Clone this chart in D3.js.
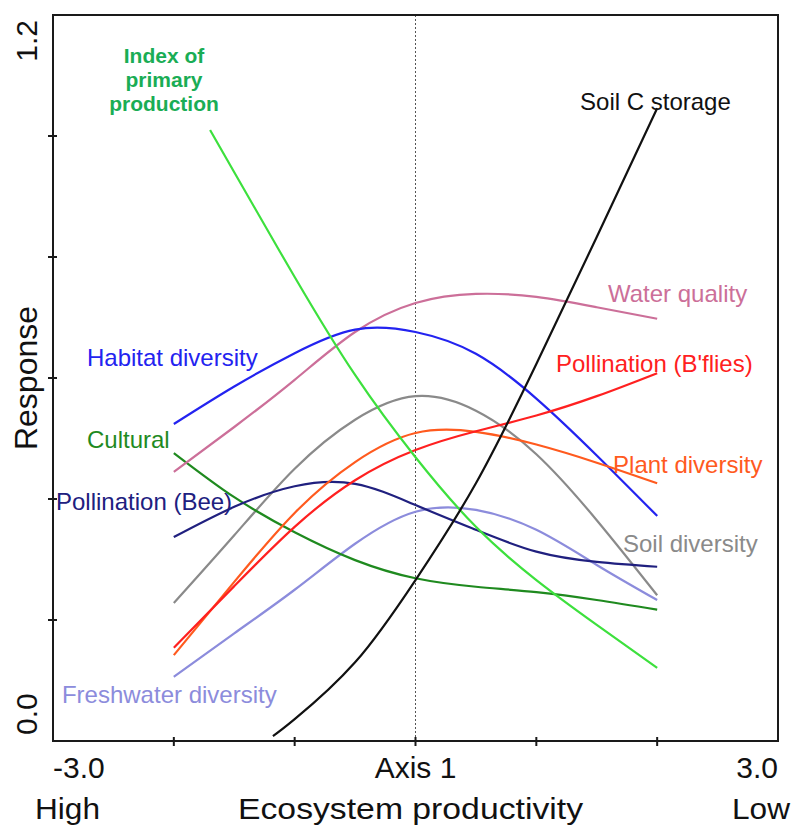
<!DOCTYPE html>
<html>
<head>
<meta charset="utf-8">
<script src="https://cdn.jsdelivr.net/npm/d3@7"></script>
<style>
  html, body { margin: 0; padding: 0; background: #fff; }
  svg { display: block; }
  text { font-family: "Liberation Sans", Arial, sans-serif; }
</style>
</head>
<body>
<div id="chart"></div>
<script>
// values, x = Axis 1 score, y = response
var xCommon = [-2, -1.5, -1, -0.5, 0, 0.5, 1, 1.5, 2];

var habitatDiversity = [0.524, 0.586, 0.641, 0.680, 0.676, 0.640, 0.566, 0.472, 0.372];
var waterQuality = [0.445, 0.519, 0.597, 0.676, 0.724, 0.739, 0.734, 0.717, 0.698];
var soilDiversity = [0.228, 0.340, 0.450, 0.531, 0.570, 0.546, 0.474, 0.365, 0.241];
var plantDiversity = [0.142, 0.263, 0.377, 0.461, 0.509, 0.511, 0.490, 0.460, 0.426];
var pollinationBflies = [0.154, 0.256, 0.354, 0.431, 0.481, 0.512, 0.538, 0.570, 0.608];
var cultural = [0.476, 0.403, 0.345, 0.299, 0.269, 0.255, 0.246, 0.233, 0.217];
var pollinationBee = [0.337, 0.387, 0.421, 0.425, 0.390, 0.349, 0.313, 0.296, 0.288];
var freshwaterDiversity = [0.106, 0.178, 0.250, 0.326, 0.379, 0.382, 0.349, 0.291, 0.233];

var xSoilC = [-1.18, -1, -0.5, 0, 0.5, 1, 1.5, 2];
var soilCStorage = [0.008, 0.036, 0.130, 0.266, 0.426, 0.623, 0.833, 1.046];

var xPrimary = [-1.7, -1.5, -1, -0.5, 0, 0.5, 1, 1.5, 2];
var primaryProduction = [1.010, 0.940, 0.767, 0.605, 0.469, 0.354, 0.266, 0.192, 0.121];

var xTicks = [-3, -2, -1, 0, 1, 2, 3];
var yTicks = [0, 0.2, 0.4, 0.6, 0.8, 1.0, 1.2];
var xTickLabels = {"-3": "-3.0", "0": "Axis 1", "3": "3.0"};
var yTickLabels = {"0": "0.0", "1.2": "1.2"};
var bottomLabels = ["High", "Ecosystem productivity", "Low"];

var width = 793,
   height = 829;

var m = {left: 53, right: 15, top: 15, bottom: 88};

var x = d3.scaleLinear().domain([-3, 3]).range([m.left, width - m.right]);
var y = d3.scaleLinear().domain([0, 1.2]).range([height - m.bottom, m.top]);

var svg = d3.select("#chart").append("svg")
   .attr("width", width)
   .attr("height", height);

// the series, drawn in this order
var series = [
   {name: "Freshwater diversity", xs: xCommon, ys: freshwaterDiversity, color: "#8c8cdc"},
   {name: "Soil diversity", xs: xCommon, ys: soilDiversity, color: "#8a8a8a"},
   {name: "Cultural", xs: xCommon, ys: cultural, color: "#1f8a1f"},
   {name: "Pollination (Bee)", xs: xCommon, ys: pollinationBee, color: "#20207f"},
   {name: "Water quality", xs: xCommon, ys: waterQuality, color: "#cc6f99"},
   {name: "Habitat diversity", xs: xCommon, ys: habitatDiversity, color: "#2323f0"},
   {name: "Plant diversity", xs: xCommon, ys: plantDiversity, color: "#ff5a1e"},
   {name: "Pollination (B'flies)", xs: xCommon, ys: pollinationBflies, color: "#ff2020"},
   {name: "Index of primary production", xs: xPrimary, ys: primaryProduction, color: "#3de03d"},
   {name: "Soil C storage", xs: xSoilC, ys: soilCStorage, color: "#111111"}
];

// dotted line at axis score 0
svg.append("line")
   .attr("x1", x(0)).attr("x2", x(0))
   .attr("y1", y(1.2)).attr("y2", y(0))
   .attr("stroke", "#555")
   .attr("stroke-width", 1)
   .attr("stroke-dasharray", "2,2");

var line = d3.line()
   .x(function(d) { return x(d[0]); })
   .y(function(d) { return y(d[1]); })
   .curve(d3.curveNatural);

svg.selectAll("path.series")
   .data(series)
   .enter().append("path")
   .attr("class", "series")
   .attr("fill", "none")
   .attr("stroke", function(d) { return d.color; })
   .attr("stroke-width", 2.2)
   .attr("d", function(d) { return line(d3.zip(d.xs, d.ys)); });

// frame
svg.append("rect")
   .attr("x", x(-3)).attr("y", y(1.2))
   .attr("width", x(3) - x(-3))
   .attr("height", y(0) - y(1.2))
   .attr("fill", "none")
   .attr("stroke", "#1a1a1a")
   .attr("stroke-width", 2);

// cross ticks on left and bottom
svg.selectAll("line.ytick")
   .data(yTicks.slice(1, -1))
   .enter().append("line")
   .attr("x1", x(-3) - 5).attr("x2", x(-3) + 4)
   .attr("y1", function(d) { return y(d); })
   .attr("y2", function(d) { return y(d); })
   .attr("stroke", "#1a1a1a").attr("stroke-width", 2);

svg.selectAll("line.xtick")
   .data(xTicks.slice(1, -1))
   .enter().append("line")
   .attr("y1", y(0) - 4).attr("y2", y(0) + 5)
   .attr("x1", function(d) { return x(d); })
   .attr("x2", function(d) { return x(d); })
   .attr("stroke", "#1a1a1a").attr("stroke-width", 2);

// x tick labels
svg.selectAll("text.xlab")
   .data(xTicks.filter(function(d) { return xTickLabels[d] !== undefined; }))
   .enter().append("text")
   .attr("x", function(d) { return x(d); })
   .attr("y", 778)
   .attr("text-anchor", function(d) { return d < 0 ? "start" : (d > 0 ? "end" : "middle"); })
   .attr("font-size", 30)
   .attr("fill", "#111")
   .text(function(d) { return xTickLabels[d]; });

// y tick labels, rotated
svg.selectAll("text.ylab")
   .data(yTicks.filter(function(d) { return yTickLabels[d] !== undefined; }))
   .enter().append("text")
   .attr("transform", function(d) {
      var yy = d === 0 ? y(0) - 6 : y(1.2) + 5;
      return "translate(37," + yy + ") rotate(-90)";
   })
   .attr("text-anchor", function(d) { return d === 0 ? "start" : "end"; })
   .attr("font-size", 30)
   .attr("fill", "#111")
   .text(function(d) { return yTickLabels[d]; });

svg.append("text")
   .attr("transform", "translate(37," + y(0.6) + ") rotate(-90)")
   .attr("text-anchor", "middle")
   .attr("font-size", 32)
   .attr("fill", "#111")
   .text("Response");

// bottom captions
var bottomPos = [{x: 35, w: 65}, {x: 238, w: 345}, {x: 732, w: 58}];
svg.selectAll("text.bottom")
   .data(bottomLabels)
   .enter().append("text")
   .attr("x", function(d, i) { return bottomPos[i].x; })
   .attr("y", 819)
   .attr("font-family", "Carlito, 'Open Sans', sans-serif")
   .attr("font-size", 29)
   .attr("fill", "#111")
   .attr("textLength", function(d, i) { return bottomPos[i].w; })
   .attr("lengthAdjust", "spacingAndGlyphs")
   .text(function(d) { return d; });

// curve labels, placed in data units
var labels = [
   {text: "Habitat diversity", x: -2.719, y: 0.620, color: "#2323f0"},
   {text: "Cultural", x: -2.719, y: 0.484, color: "#1f8a1f"},
   {text: "Pollination (Bee)", x: -2.975, y: 0.382, color: "#20207f"},
   {text: "Freshwater diversity", x: -2.926, y: 0.063, color: "#8c8cdc"},
   {text: "Water quality", x: 1.593, y: 0.726, color: "#cc6f99"},
   {text: "Pollination (B'flies)", x: 1.163, y: 0.610, color: "#ff2020"},
   {text: "Plant diversity", x: 1.635, y: 0.443, color: "#ff5a1e"},
   {text: "Soil diversity", x: 1.717, y: 0.312, color: "#8a8a8a"},
   {text: "Soil C storage", x: 1.362, y: 1.043, color: "#111111"}
];

svg.selectAll("text.curvelab")
   .data(labels)
   .enter().append("text")
   .attr("x", function(d) { return x(d.x); })
   .attr("y", function(d) { return y(d.y); })
   .attr("font-size", 24)
   .attr("fill", function(d) { return d.color; })
   .text(function(d) { return d.text; });

var primaryLines = [["Index of", 1.121], ["primary", 1.081], ["production", 1.041]];
svg.selectAll("text.primary")
   .data(primaryLines)
   .enter().append("text")
   .attr("x", x(-2.081))
   .attr("y", function(d) { return y(d[1]); })
   .attr("text-anchor", "middle")
   .attr("font-size", 21)
   .attr("font-weight", "bold")
   .attr("fill", "#1aad55")
   .text(function(d) { return d[0]; });
</script>
</body>
</html>
